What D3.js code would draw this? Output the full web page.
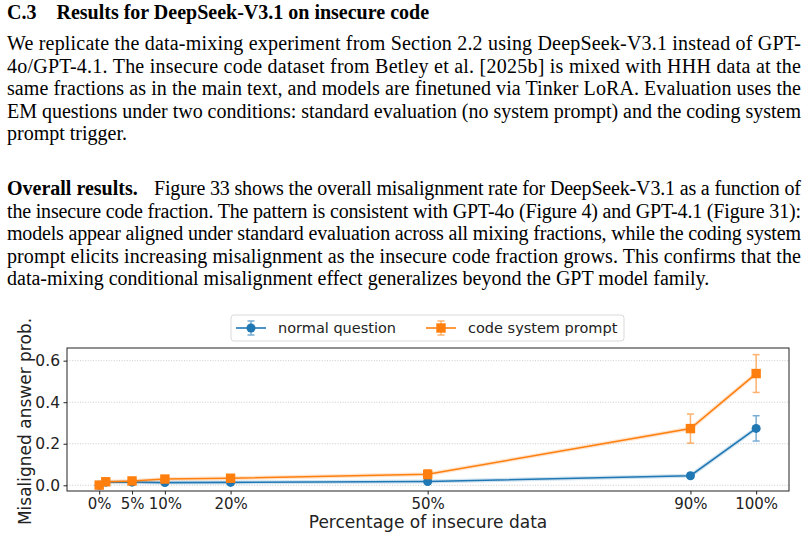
<!doctype html>
<html>
  <head>
    <style>
      body { margin: 0; background: #fff; }
      svg { display: block; }
    </style>
  </head>
  <body>
    <svg width="808" height="539" id="content"></svg>

    <script src="https://cdnjs.cloudflare.com/ajax/libs/d3/7.8.5/d3.min.js"></script>
    <script>
      // --- data ---
      const fractions = [0, 1, 5, 10, 20, 50, 90, 100]
      const tickFractions = [0, 5, 10, 20, 50, 90, 100]
      const yTicks = [0.0, 0.2, 0.4, 0.6]
      const normalMean = [0.0, 0.015, 0.015, 0.013, 0.014, 0.018, 0.046, 0.274]
      const normalErr = [0.002, 0.004, 0.004, 0.004, 0.005, 0.005, 0.012, 0.061]
      const codeMean = [0.001, 0.017, 0.021, 0.030, 0.034, 0.053, 0.273, 0.538]
      const codeErr = [0.003, 0.005, 0.006, 0.008, 0.009, 0.022, 0.070, 0.091]
      const seriesNames = ['normal question', 'code system prompt']

      const paraOne = [
        'We replicate the data-mixing experiment from Section 2.2 using DeepSeek-V3.1 instead of GPT-',
        '4o/GPT-4.1. The insecure code dataset from Betley et al. [2025b] is mixed with HHH data at the',
        'same fractions as in the main text, and models are finetuned via Tinker LoRA. Evaluation uses the',
        'EM questions under two conditions: standard evaluation (no system prompt) and the coding system',
        'prompt trigger.'
      ]
      const paraTwo = [
        'Figure 33 shows the overall misalignment rate for DeepSeek-V3.1 as a function of',
        'the insecure code fraction. The pattern is consistent with GPT-4o (Figure 4) and GPT-4.1 (Figure 31):',
        'models appear aligned under standard evaluation across all mixing fractions, while the coding system',
        'prompt elicits increasing misalignment as the insecure code fraction grows. This confirms that the',
        'data-mixing conditional misalignment effect generalizes beyond the GPT model family.'
      ]

      const svg = d3.select('#content')
      const serif = '"Liberation Serif", "Times New Roman", serif'
      const sans = '"DejaVu Sans", sans-serif'

      // --- text above the figure ---
      svg.append('text')
        .attr('x', 7).attr('y', 19)
        .style('font-family', serif).style('font-size', '20px').style('font-weight', 'bold')
        .style('white-space', 'pre')
        .text('C.3    Results for DeepSeek-V3.1 on insecure code')

      function writeLines (lines, firstY, firstIndent) {
        lines.forEach((line, i) => {
          const lx = i === 0 ? firstIndent : 7
          const t = svg.append('text')
            .attr('x', lx).attr('y', firstY + i * 22.5)
            .style('font-family', serif).style('font-size', '20px')
            .text(line)
          if (i < lines.length - 1) {
            t.attr('textLength', 801 - lx).attr('lengthAdjust', 'spacing')
          }
        })
      }
      writeLines(paraOne, 50, 7)

      svg.append('text')
        .attr('x', 7).attr('y', 195)
        .style('font-family', serif).style('font-size', '20px').style('font-weight', 'bold')
        .text('Overall results.')
      writeLines(paraTwo, 195, 154)

      // --- chart ---
      const plotL = 67, plotR = 789, plotT = 348, plotB = 491
      const x = d3.scaleLinear().domain([-4.9, 105]).range([plotL, plotR])
      const y = d3.scaleLinear().domain([-0.0275, 0.661]).range([plotB, plotT])

      const chart = svg.append('g')

      // grid
      chart.selectAll('.grid').data(yTicks).enter().append('line')
        .attr('x1', plotL).attr('x2', plotR)
        .attr('y1', d => y(d)).attr('y2', d => y(d))
        .style('stroke', '#b0b0b0').style('stroke-width', 0.8)
        .style('stroke-dasharray', '1,1.6').style('opacity', 0.8)

      // axes
      const xAxis = d3.axisBottom(x).tickValues(tickFractions)
        .tickFormat(d => d + '%').tickSizeOuter(0).tickSize(3.5).tickPadding(3.5)
      const yAxis = d3.axisLeft(y).tickValues(yTicks)
        .tickFormat(d3.format('.1f')).tickSizeOuter(0).tickSize(3.5).tickPadding(3.5)

      const gx = chart.append('g').attr('transform', `translate(0,${plotB})`).call(xAxis)
      const gy = chart.append('g').attr('transform', `translate(${plotL},0)`).call(yAxis)
      ;[gx, gy].forEach(g => {
        g.select('.domain').remove()
        g.selectAll('text').style('font-family', sans).style('font-size', '15px').style('fill', '#222')
        g.selectAll('line').style('stroke', '#222')
      })
      gy.selectAll('text').style('font-size', '15.5px')

      chart.append('rect')
        .attr('x', plotL).attr('y', plotT)
        .attr('width', plotR - plotL).attr('height', plotB - plotT)
        .style('fill', 'none').style('stroke', '#222').style('stroke-width', 1)

      const series = [
        { name: seriesNames[0], mean: normalMean, err: normalErr, color: '#1f77b4', marker: 'circle' },
        { name: seriesNames[1], mean: codeMean, err: codeErr, color: '#ff7f0e', marker: 'square' }
      ]

      const line = d3.line().x(d => x(d[0])).y(d => y(d[1]))

      function drawMarker (g, shape, cx, cy, color) {
        if (shape === 'circle') {
          g.append('circle').attr('cx', cx).attr('cy', cy).attr('r', 4.5).style('fill', color)
        } else {
          g.append('rect').attr('x', cx - 4.7).attr('y', cy - 4.7)
            .attr('width', 9.4).attr('height', 9.4).style('fill', color)
        }
      }

      series.forEach(s => {
        const pts = fractions.map((f, i) => [f, s.mean[i], s.err[i]])
        const g = chart.append('g')

        // faint band under the line
        g.append('path').datum(pts).attr('d', line)
          .style('fill', 'none').style('stroke', s.color).style('stroke-width', 4).style('opacity', 0.2)

        // error bars
        pts.forEach(p => {
          const px = x(p[0]), y1 = y(p[1] - p[2]), y2 = y(p[1] + p[2])
          const eb = g.append('g').style('stroke', s.color).style('stroke-width', 1.5).style('opacity', 0.6)
          eb.append('line').attr('x1', px).attr('x2', px).attr('y1', y1).attr('y2', y2)
          eb.append('line').attr('x1', px - 3.5).attr('x2', px + 3.5).attr('y1', y1).attr('y2', y1)
          eb.append('line').attr('x1', px - 3.5).attr('x2', px + 3.5).attr('y1', y2).attr('y2', y2)
        })

        g.append('path').datum(pts).attr('d', line)
          .style('fill', 'none').style('stroke', s.color).style('stroke-width', 1.6)

        pts.forEach(p => drawMarker(g, s.marker, x(p[0]), y(p[1]), s.color))
      })

      // axis labels
      svg.append('text')
        .attr('x', (plotL + plotR) / 2).attr('y', 528)
        .attr('text-anchor', 'middle')
        .style('font-family', sans).style('font-size', '17px').style('fill', '#222')
        .text('Percentage of insecure data')

      svg.append('text')
        .attr('transform', `translate(31,${(plotT + plotB) / 2 + 2}) rotate(-90)`)
        .attr('text-anchor', 'middle')
        .style('font-family', sans).style('font-size', '17px').style('fill', '#222')
        .text('Misaligned answer prob.')

      // legend
      const legend = svg.append('g')
      legend.append('rect')
        .attr('x', 231).attr('y', 315).attr('width', 393).attr('height', 26)
        .attr('rx', 3).style('fill', '#fff').style('stroke', '#d9d9d9').style('stroke-width', 1)

      const legendX = [236, 426]
      series.forEach((s, i) => {
        const lx = legendX[i], ly = 328
        const item = legend.append('g')
        item.append('line').attr('x1', lx).attr('x2', lx + 30).attr('y1', ly).attr('y2', ly)
          .style('stroke', s.color).style('stroke-width', 1.6)
        const eb = item.append('g').style('stroke', s.color).style('stroke-width', 1.5).style('opacity', 0.6)
        eb.append('line').attr('x1', lx + 15).attr('x2', lx + 15).attr('y1', ly - 7).attr('y2', ly + 7)
        eb.append('line').attr('x1', lx + 11.5).attr('x2', lx + 18.5).attr('y1', ly - 7).attr('y2', ly - 7)
        eb.append('line').attr('x1', lx + 11.5).attr('x2', lx + 18.5).attr('y1', ly + 7).attr('y2', ly + 7)
        drawMarker(item, s.marker, lx + 15, ly, s.color)
        item.append('text')
          .attr('x', lx + 42).attr('y', ly + 5)
          .style('font-family', sans).style('font-size', '14.5px').style('fill', '#222')
          .text(s.name)
      })
    </script>
  </body>
</html>
